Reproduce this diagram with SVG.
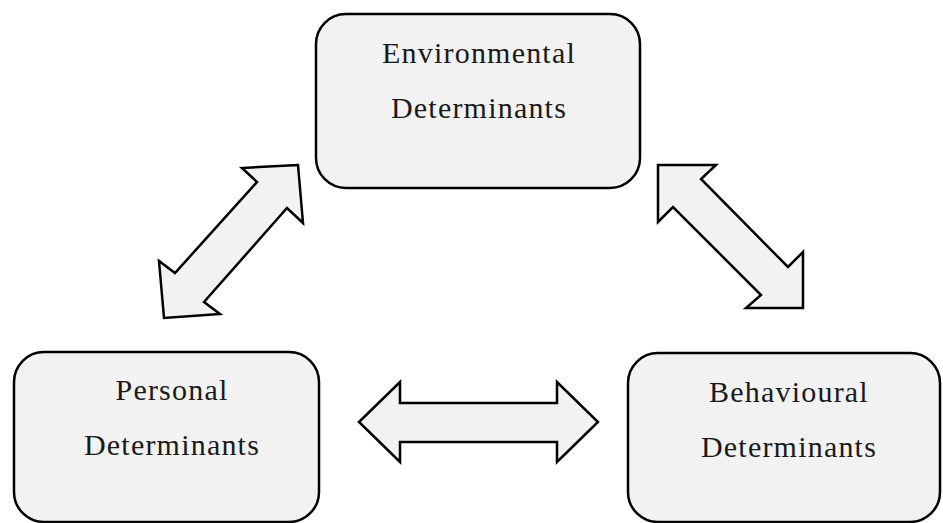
<svg xmlns="http://www.w3.org/2000/svg" width="943" height="523" viewBox="0 0 943 523">
  <style>
    .box { fill: #f2f2f2; stroke: #000; stroke-width: 2.5; }
    .arrow { fill: #f2f2f2; stroke: #000; stroke-width: 2.5; stroke-linejoin: miter; }
    .label { font-family: "Liberation Serif", "Times New Roman", serif; font-size: 30px; letter-spacing: 1.2px; fill: #1a1a1a; text-anchor: middle; }
  </style>
  <rect width="943" height="523" fill="#fff"/>

  <!-- block arrows linking the three determinants -->
  <g id="connectors">
    <polygon class="arrow" points="298,165 242,168 257,182 175,273 159,261 164,318 220,314 204,302 287,208 303,223"/>
    <polygon class="arrow" points="658,165 716,165 701,179 788,267 803,252 803,308 746,308 761,295 673,207 658,222"/>
    <polygon class="arrow" points="359,422 400,382 400,403 557,403 557,382 598,422 557,462 557,442 400,442 400,462"/>
  </g>

  <g id="environmental">
    <rect class="box" x="316" y="14" width="324" height="174" rx="30" ry="30"/>
    <text class="label" x="479" y="63">Environmental</text>
    <text class="label" x="479" y="118">Determinants</text>
  </g>

  <g id="personal">
    <rect class="box" x="14" y="352" width="305" height="170" rx="30" ry="30"/>
    <text class="label" x="172" y="400">Personal</text>
    <text class="label" x="172" y="455">Determinants</text>
  </g>

  <g id="behavioural">
    <rect class="box" x="628" y="353" width="312" height="169" rx="30" ry="30"/>
    <text class="label" x="789" y="402">Behavioural</text>
    <text class="label" x="789" y="457">Determinants</text>
  </g>
</svg>
